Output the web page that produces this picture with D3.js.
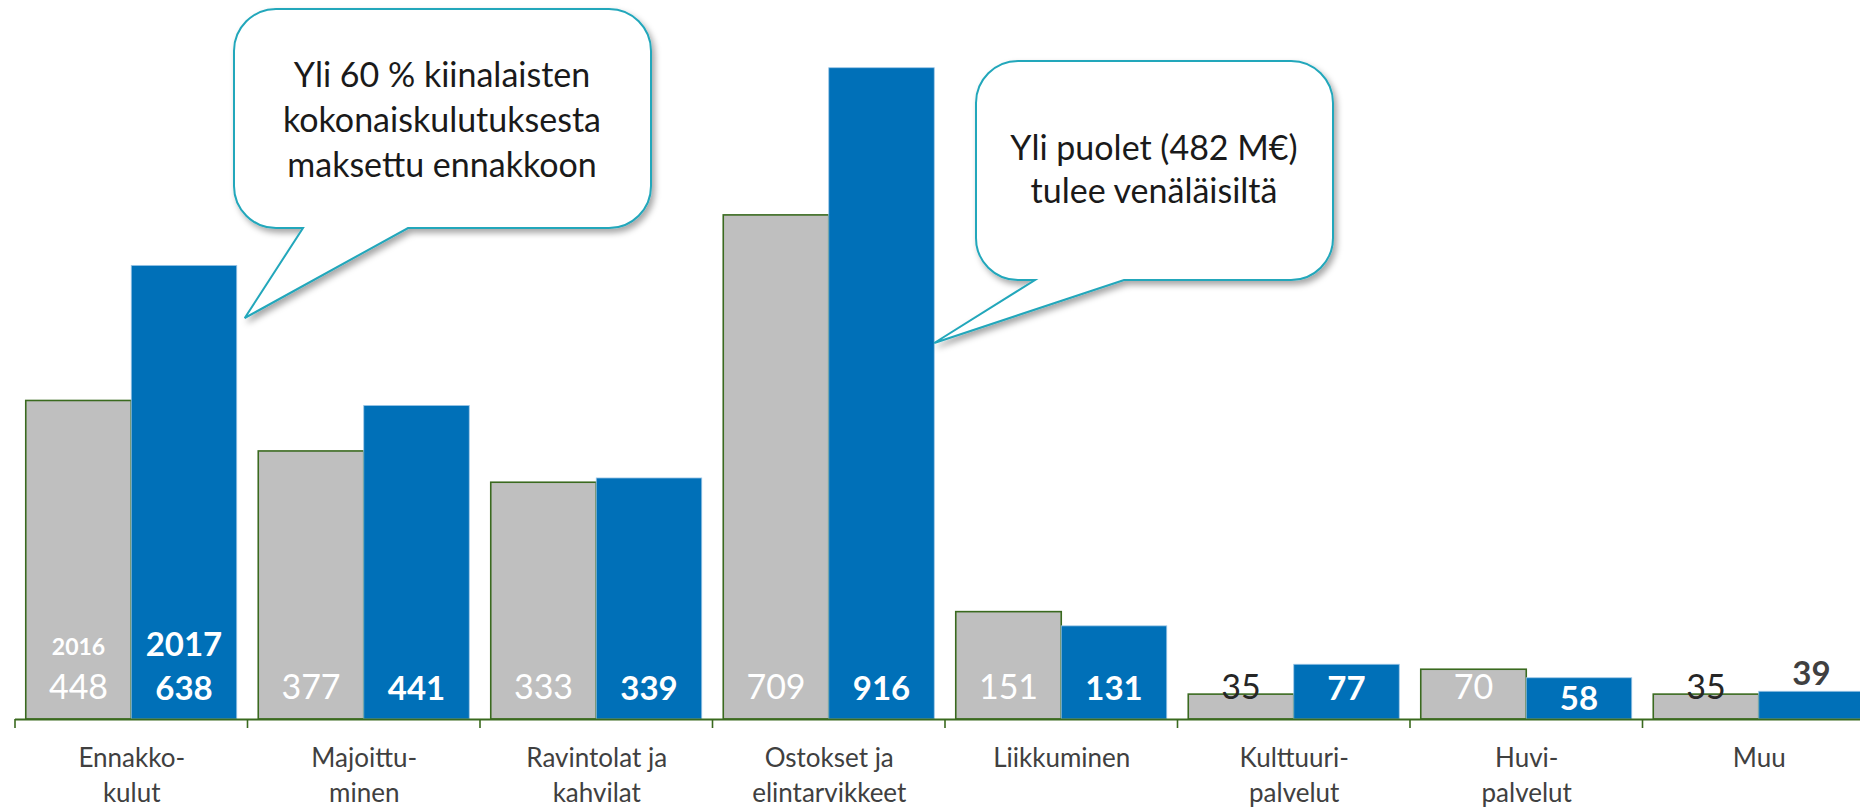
<!doctype html>
<html>
<head>
<meta charset="utf-8">
<script src="https://d3js.org/d3.v7.min.js"></script>
<style>
  body { margin: 0; background: #fff; }
  text { font-family: Lato, "Open Sans", sans-serif; }
</style>
</head>
<body>
<svg id="chart" width="1860" height="809"></svg>
<script>
// data
var categories = ["Ennakkokulut", "Majoittuminen", "Ravintolat ja kahvilat", "Ostokset ja elintarvikkeet",
                  "Liikkuminen", "Kulttuuripalvelut", "Huvipalvelut", "Muu"];
var catLines = [["Ennakko-", "kulut"], ["Majoittu-", "minen"], ["Ravintolat ja", "kahvilat"],
                ["Ostokset ja", "elintarvikkeet"], ["Liikkuminen"], ["Kulttuuri-", "palvelut"],
                ["Huvi-", "palvelut"], ["Muu"]];
var years = ["2016", "2017"];
var values2016 = [448, 377, 333, 709, 151, 35, 70, 35];
var values2017 = [638, 441, 339, 916, 131, 77, 58, 39];
var callout1 = ["Yli 60 % kiinalaisten", "kokonaiskulutuksesta", "maksettu ennakkoon"];
var callout2 = ["Yli puolet (482 M€)", "tulee venäläisiltä"];

var svg = d3.select("#chart");
var grey = "#bfbfbf", blue = "#0070b8", green = "#3a6a1f", teal = "#22a7bb";

var x = d3.scaleBand().domain(categories).range([15, 15 + 8 * 232.5])
          .paddingInner(0.0925).paddingOuter(0.04625);
var xs = d3.scaleBand().domain(years).range([0, x.bandwidth()]);
var y = d3.scaleLinear().domain([0, 1000]).range([719, 8]);
var gap = x.step() * 0.0925 / 2;

var defs = svg.append("defs");
defs.append("filter").attr("id", "shadow").attr("x", "-10%").attr("y", "-10%")
    .attr("width", "130%").attr("height", "130%")
  .append("feDropShadow").attr("dx", 3).attr("dy", 4).attr("stdDeviation", 3)
    .attr("flood-color", "#000").attr("flood-opacity", 0.35);

var rows = categories.map(function(c, i) {
  return {cat: c, lines: catLines[i], v16: values2016[i], v17: values2017[i]};
});

// bars
var g = svg.selectAll(".grp").data(rows).enter().append("g")
  .attr("transform", function(d) { return "translate(" + x(d.cat) + ",0)"; });

g.append("rect")
  .attr("x", xs("2016")).attr("width", xs.bandwidth())
  .attr("y", function(d) { return y(d.v16); })
  .attr("height", function(d) { return y(0) - y(d.v16); })
  .attr("fill", grey).attr("stroke", green).attr("stroke-width", 1.6);

g.append("rect")
  .attr("x", xs("2017")).attr("width", xs.bandwidth())
  .attr("y", function(d) { return y(d.v17); })
  .attr("height", function(d) { return y(0) - y(d.v17); })
  .attr("fill", blue).attr("stroke", "#9cc6e6").attr("stroke-width", 0.8);

// axis line + ticks
svg.append("line").attr("x1", 15).attr("x2", 1860).attr("y1", y(0) + 0.5).attr("y2", y(0) + 0.5)
  .attr("stroke", green).attr("stroke-width", 2);
svg.selectAll(".tick").data(categories).enter().append("line")
  .attr("x1", function(d) { return x(d) - gap; }).attr("x2", function(d) { return x(d) - gap; })
  .attr("y1", y(0)).attr("y2", y(0) + 9)
  .attr("stroke", green).attr("stroke-width", 1.6);

// value labels
var cx16 = xs("2016") + xs.bandwidth() / 2, cx17 = xs("2017") + xs.bandwidth() / 2;
g.append("text")
  .attr("x", cx16).attr("y", 699).attr("text-anchor", "middle")
  .attr("font-size", 34)
  .attr("fill", function(d) { return d.v16 < 50 ? "#262626" : "#fff"; })
  .text(function(d) { return d.v16; });

g.append("text")
  .attr("x", cx17)
  .attr("y", function(d) { return d.v17 < 50 ? y(d.v17) - 6 : (d.v17 < 65 ? 710 : 700); })
  .attr("text-anchor", "middle").attr("font-size", 33).attr("font-weight", "bold")
  .attr("fill", function(d) { return d.v17 < 50 ? "#404040" : "#fff"; })
  .text(function(d) { return d.v17; });

// year labels in first group
svg.append("text").attr("x", x(categories[0]) + cx16).attr("y", 655)
  .attr("text-anchor", "middle").attr("font-size", 23).attr("font-weight", "bold")
  .attr("fill", "#fff").text(years[0]);
svg.append("text").attr("x", x(categories[0]) + cx17).attr("y", 656)
  .attr("text-anchor", "middle").attr("font-size", 33).attr("font-weight", "bold")
  .attr("fill", "#fff").text(years[1]);

// category labels
g.append("text")
  .attr("text-anchor", "middle").attr("font-size", 26).attr("fill", "#404040")
  .selectAll("tspan").data(function(d) { return d.lines; }).enter().append("tspan")
  .attr("x", x.bandwidth() / 2 + 0.5).attr("y", function(d, i) { return 767 + i * 35; })
  .text(function(d) { return d; });

// callouts
function bubble(x0, y0, x1, y1, r, b1, b2, tx, ty) {
  return "M" + (x0 + r) + "," + y0 + "H" + (x1 - r) +
    "A" + r + "," + r + " 0 0 1 " + x1 + "," + (y0 + r) + "V" + (y1 - r) +
    "A" + r + "," + r + " 0 0 1 " + (x1 - r) + "," + y1 + "H" + b2 +
    "L" + tx + "," + ty + "L" + b1 + "," + y1 + "H" + (x0 + r) +
    "A" + r + "," + r + " 0 0 1 " + x0 + "," + (y1 - r) + "V" + (y0 + r) +
    "A" + r + "," + r + " 0 0 1 " + (x0 + r) + "," + y0 + "Z";
}

var tip1x = x(categories[0]) + x.bandwidth() + 8;
svg.append("path").attr("d", bubble(234, 9, 651, 228, 42, 303, 408, tip1x, 318))
  .attr("fill", "#fff").attr("stroke", teal).attr("stroke-width", 2)
  .attr("filter", "url(#shadow)");
svg.append("text").attr("text-anchor", "middle").attr("font-size", 34).attr("fill", "#1a1a1a")
  .selectAll("tspan").data(callout1).enter().append("tspan")
  .attr("x", 442).attr("y", function(d, i) { return 87 + i * 45; }).text(function(d) { return d; });

var tip2x = x(categories[3]) + x.bandwidth();
svg.append("path").attr("d", bubble(976, 61, 1333, 280, 42, 1035, 1124, tip2x, 343))
  .attr("fill", "#fff").attr("stroke", teal).attr("stroke-width", 2)
  .attr("filter", "url(#shadow)");
svg.append("text").attr("text-anchor", "middle").attr("font-size", 34).attr("fill", "#1a1a1a")
  .selectAll("tspan").data(callout2).enter().append("tspan")
  .attr("x", 1154).attr("y", function(d, i) { return 160 + i * 43; }).text(function(d) { return d; });
</script>
</body>
</html>
